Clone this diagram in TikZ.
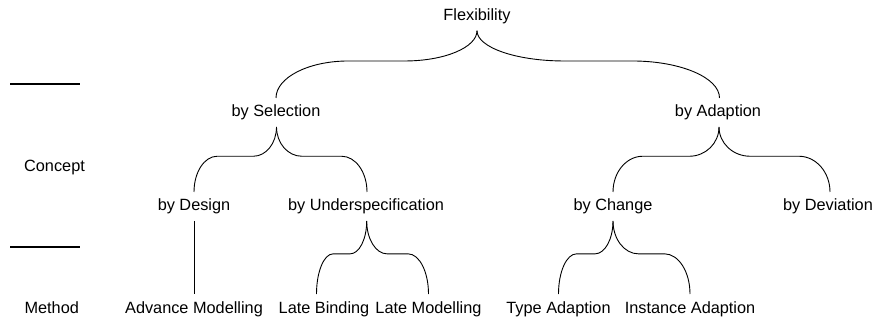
\documentclass[tikz,border=0pt]{standalone}
\usepackage{fontspec}
\setmainfont{Liberation Sans}
\usetikzlibrary{calc}

\tikzset{
  lbl/.style={font=\fontsize{16.3}{19}\selectfont, inner sep=0pt,
    text height=12pt, text depth=3pt, outer xsep=0pt, outer ysep=7pt, anchor=base},
  rule/.style={line width=2pt},
  link/.style={line width=0.9pt},
  % a half of a horizontal curly brace, running from its tip to one end
  brace/.style={link, /utils/exec={\def\bracefrac{#1}}, to path={
    let \p1=(\tikztostart), \p2=(\tikztotarget),
        \p3=($(\tikztostart)!0.45!(\tikztotarget)$) in
    .. controls (\x1, {\y1+0.552*(\y3-\y1)}) and ({\x1+0.448*\bracefrac*(\x2-\x1)}, \y3)
    .. ({\x1+\bracefrac*(\x2-\x1)}, \y3)
    -- ({\x2-\bracefrac*(\x2-\x1)}, \y3)
    .. controls ({\x2-0.448*\bracefrac*(\x2-\x1)}, \y3) and (\x2, {\y3+0.448*(\y2-\y3)})
    .. (\tikztotarget)}},
  brace/.default=0.33,
}

\begin{document}
\begin{tikzpicture}[x=1pt, y=-1pt]
\useasboundingbox (0,0) rectangle (877,320);

% level rules and row captions
\coordinate (r1a) at (10,84);  \coordinate (r1b) at (80,84);
\coordinate (r2a) at (10,247); \coordinate (r2b) at (80,247);
\draw[rule] (r1a) -- (r1b);
\draw[rule] (r2a) -- (r2b);
\node[lbl] (concept) at (54.5,172) {Concept};
\node[lbl] (method)  at (51.7,313) {Method};

% tree nodes
\node[lbl] (flex)   at (477,20.7) {Flexibility};
\node[lbl] (sel)    at (276,117)  {by Selection};
\node[lbl] (adp)    at (718,117)  {by Adaption};
\node[lbl] (design) at (194,211)  {by Design};
\node[lbl] (under)  at (366,211)  {by Underspecification};
\node[lbl] (change) at (613,211)  {by Change};
\node[lbl] (dev)    at (828,211)  {by Deviation};
\node[lbl] (adv)    at (194,313)  {Advance Modelling};
\node[lbl] (lbind)  at (324,313)  {Late Binding};
\node[lbl] (lmod)   at (428.5,313){Late Modelling};
\node[lbl] (type)   at (558.5,313){Type Adaption};
\node[lbl] (inst)   at (690,313)  {Instance Adaption};

% connectors
\draw[brace=0.36] (flex.south) to (sel.north);
\draw[brace=0.36] (flex.south) to ([xshift=1.5pt]adp.north);
\draw[brace=0.28] ([xshift=0.5pt]sel.south) to (design.north);
\draw[brace=0.28] ([xshift=0.5pt]sel.south) to ([xshift=1pt]under.north);
\draw[brace=0.28] ([xshift=1pt]adp.south) to (change.north);
\draw[brace=0.28] ([xshift=1pt]adp.south) to ([xshift=2pt]dev.north);
\draw[link] (design.south) -- (adv.north);
\draw[brace] ([xshift=0.7pt]under.south) to ([xshift=-7.5pt]lbind.north);
\draw[brace] ([xshift=0.7pt]under.south) to (lmod.north);
\draw[brace] (change.south) to (type.north);
\draw[brace] (change.south) to (inst.north);
\end{tikzpicture}
\end{document}
